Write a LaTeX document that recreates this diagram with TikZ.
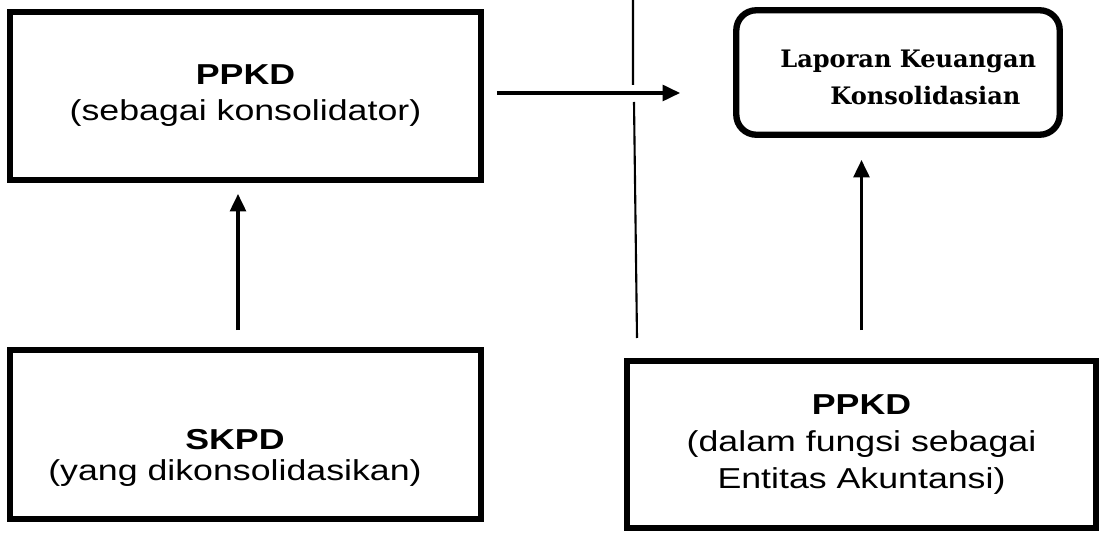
\documentclass[tikz,border=0pt]{standalone}
\usepackage{fontspec}
\setmainfont{Liberation Sans}[FakeStretch=1.24]
\newfontfamily\slabfont{DejaVu Serif}
\usetikzlibrary{arrows.meta}
\begin{document}
\begin{tikzpicture}[x=0.02cm,y=-0.02cm,
    kotak/.style={draw, line width=3.6pt, minimum width=9.41cm, minimum height=3.35cm,
      align=center, font=\fontsize{16.4}{20.5}\selectfont},
    bulat/.style={draw, line width=3.6pt, rounded corners=0.4cm,
      minimum width=6.47cm, minimum height=2.49cm},
    teks/.style={align=center, font=\fontsize{16.4}{18}\selectfont},
    panah/.style={line width=2pt, -{Triangle[length=10pt,width=9pt]}}]

  \useasboundingbox (0,0) rectangle (1104,536);

  \node[kotak] (konsol) at (245.5,96) {\textbf{PPKD}\\(sebagai konsolidator)};
  \node[kotak, minimum height=3.37cm] (skpd) at (245.5,434.5) {};
  \node[teks] (skpdteks) at (235,458) {\textbf{SKPD}\\(yang dikonsolidasikan)};
  \node[kotak, minimum width=9.37cm, minimum height=3.33cm,
    font=\fontsize{16.4}{21}\selectfont] (entitas) at (861.5,444.5)
    {\textbf{PPKD}\\(dalam fungsi sebagai\\Entitas Akuntansi)};

  \node[bulat] (lapkeu) at (898,72.5) {};
  \node[align=left, anchor=west, inner sep=0pt,
    font=\slabfont\bfseries\fontsize{13.7}{21}\selectfont]
    (lapteks) at (780,77) {Laporan Keuangan\\\hspace*{1cm}Konsolidasian};

  % garis pemisah
  \draw[line width=1.2pt] (633,0) -- (633,85) (634,102) -- (637,338);

  \draw[panah, shorten <=0.34cm, shorten >=0.22cm]
    ([xshift=-0.15cm]skpd.north) -- ([xshift=-0.15cm]konsol.south);
  \draw[panah, shorten <=0.56cm, shorten >=0.44cm]
    (entitas.north) -- (entitas.north |- lapkeu.south);
  \draw[panah, shorten <=0.26cm, shorten >=1.06cm]
    ([yshift=0.06cm]konsol.east) -- ([yshift=0.06cm]konsol.east -| lapkeu.west);
\end{tikzpicture}
\end{document}
